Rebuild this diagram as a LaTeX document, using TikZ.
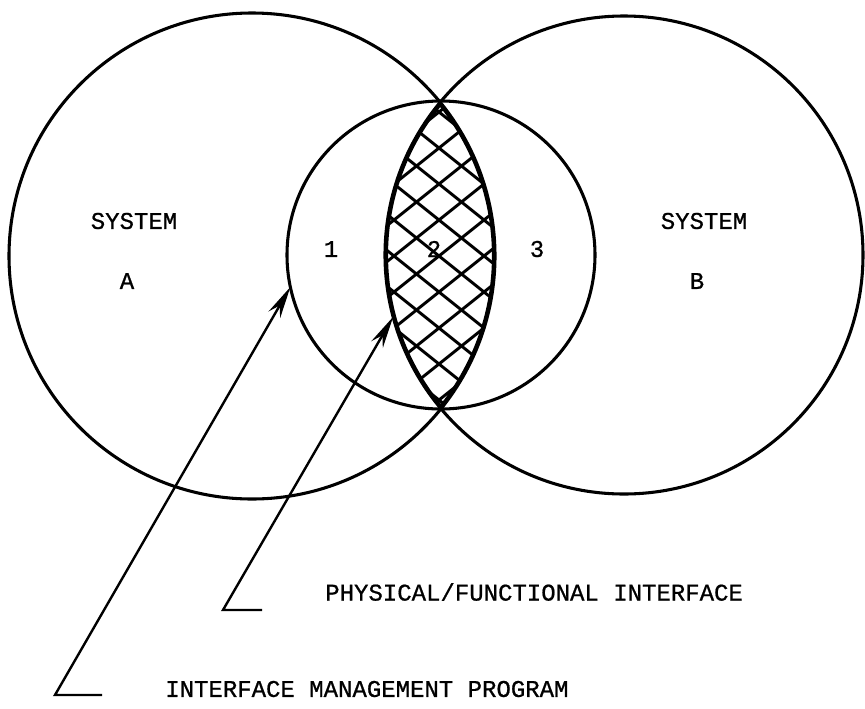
\documentclass[tikz,border=0pt]{standalone}
\usepackage{fontspec}
\setmonofont{Liberation Mono}[FakeBold=0.8]
\usetikzlibrary{arrows.meta}

\begin{document}
\begin{tikzpicture}[x=0.75pt, y=-0.75pt,
    system/.style={draw, circle, line width=2.3pt, inner sep=0pt, outer sep=0pt},
    lbl/.style={font=\ttfamily\fontsize{18}{20}\selectfont, inner sep=0pt},
    hatch/.style={line width=2.2pt},
    pointer/.style={-{Stealth[length=24pt, width=10pt, inset=8pt]}, line width=1.8pt}]
    \useasboundingbox (0,0) rectangle (865,708);
    % the two systems and the interface region
    \node[system, minimum size=364.5pt] (sysA) at (252,256) {};
    \node[system, minimum size=358.5pt] (sysB) at (624,255) {};
    \node[system, minimum size=231pt] (ifmgmt) at (441,255) {};
    % cross-hatched overlap
    \begin{scope}
        \clip (sysA.center) circle (243);
        \clip (sysB.center) circle (239);
        \foreach \k in {-6,...,9} {
            \draw[hatch] (289,{28+36*\k}) -- (589,{268+36*\k});
            \draw[hatch] (289,{268+36*\k}) -- (589,{28+36*\k});
        }
        \draw[line width=4.6pt] (sysA.center) circle (243);
        \draw[line width=4.6pt] (sysB.center) circle (239);
    \end{scope}
    \node[lbl] (sysAname) at (134,221) {SYSTEM};
    \node[lbl] (sysAletter) at (127,281) {A};
    \node[lbl] (sysBname) at (704,221) {SYSTEM};
    \node[lbl] (sysBletter) at (697,281) {B};
    \node[lbl] (zone1) at (331,249) {1};
    \node[lbl] (zone2) at (434,249) {2};
    \node[lbl] (zone3) at (537,249) {3};
    \node[lbl, anchor=west] (physlbl) at (325,592) {PHYSICAL/FUNCTIONAL INTERFACE};
    \node[lbl, anchor=west] (mgmtlbl) at (165,689) {INTERFACE MANAGEMENT PROGRAM};
    % pointers
    \coordinate (physfoot) at (262,610);
    \coordinate (physbend) at (223,610);
    \coordinate (mgmtfoot) at (102,695);
    \coordinate (mgmtbend) at (55,695);
    \draw[pointer] (physfoot) -- (physbend) -- (sysB.195);
    \draw[pointer] (mgmtfoot) -- (mgmtbend) -- (ifmgmt.192);
\end{tikzpicture}
\end{document}
